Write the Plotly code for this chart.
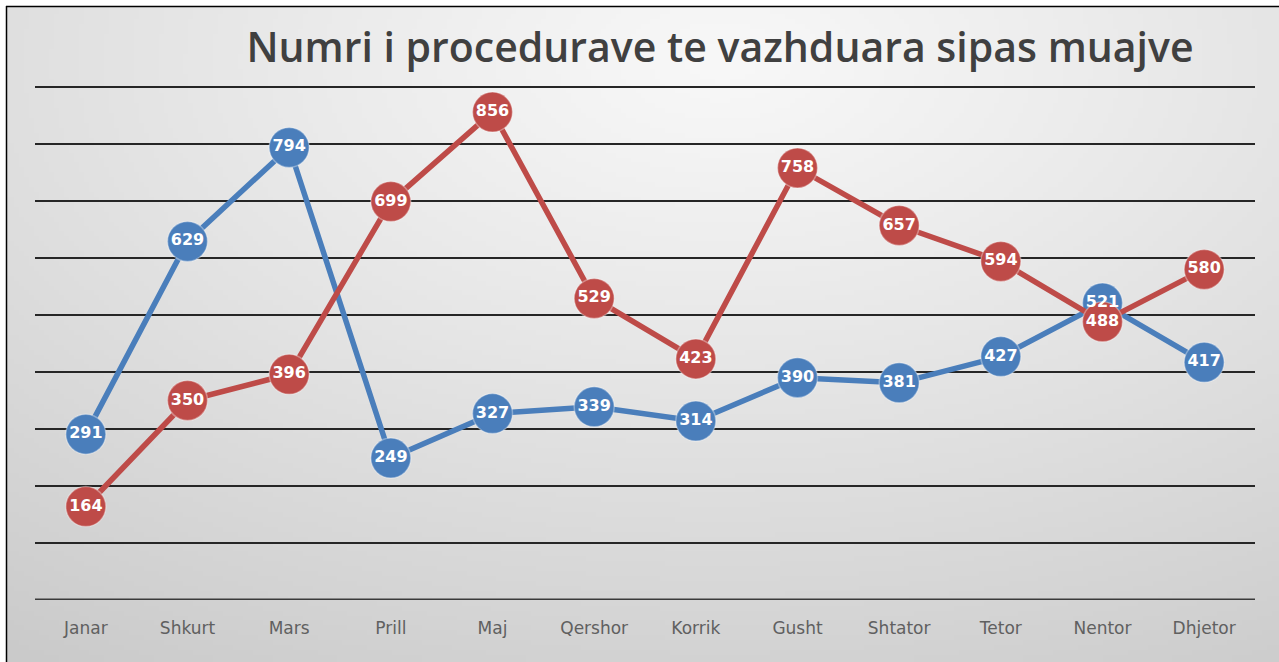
import base64, struct, zlib
import numpy as np
import plotly.graph_objects as go

months = ["Janar", "Shkurt", "Mars", "Prill", "Maj", "Qershor", "Korrik",
          "Gusht", "Shtator", "Tetor", "Nentor", "Dhjetor"]
blue_values = [291, 629, 794, 249, 327, 339, 314, 390, 381, 427, 521, 417]
red_values = [164, 350, 396, 699, 856, 529, 423, 758, 657, 594, 488, 580]
title_text = "Numri i procedurave te vazhduara sipas muajve"

BLUE = "#4a7ebb"
RED = "#be4b48"

W, H = 1279, 662
L, R, T, B = 35, 24, 87, 62
pw, ph = W - L - R, H - T - B


def gradient_png(w, h):
    ys, xs = np.mgrid[0:h, 0:w]
    cx, cy = w * 0.56, h * 0.08
    d = np.sqrt(((xs - cx) / w) ** 2 + ((ys - cy) / h * 0.9) ** 2)
    d = d / d.max()
    v = 248 - 46 * d ** 1.1
    v = np.clip(v, 0, 255).astype(np.uint8)
    raw = b"".join(b"\x00" + v[r].tobytes() for r in range(h))

    def chunk(tag, data):
        c = struct.pack(">I", len(data)) + tag + data
        return c + struct.pack(">I", zlib.crc32(tag + data) & 0xFFFFFFFF)

    png = b"\x89PNG\r\n\x1a\n"
    png += chunk(b"IHDR", struct.pack(">IIBBBBB", w, h, 8, 0, 0, 0, 0))
    png += chunk(b"IDAT", zlib.compress(raw, 9))
    png += chunk(b"IEND", b"")
    return "data:image/png;base64," + base64.b64encode(png).decode()


bg = gradient_png(256, 133)

fig = go.Figure()
for vals, col in [(blue_values, BLUE), (red_values, RED)]:
    fig.add_trace(go.Scatter(
        x=months, y=vals, mode="lines+markers",
        line=dict(color=col, width=5.5),
        marker=dict(size=40, color=col, line=dict(color="rgba(255,255,255,0.35)", width=1.5)),
        hoverinfo="skip", showlegend=False))
for vals in [blue_values, red_values]:
    fig.add_trace(go.Scatter(
        x=months, y=vals, mode="text", text=[str(v) for v in vals],
        textposition="middle center",
        textfont=dict(family="DejaVu Sans", size=16, color="white", weight="bold"),
        hoverinfo="skip", showlegend=False))

px_x = lambda p: (p - L) / pw
px_y = lambda p: 1 - (p - T) / ph

fig.update_layout(
    width=W, height=H,
    margin=dict(l=L, r=R, t=T, b=B),
    paper_bgcolor="white",
    plot_bgcolor="rgba(0,0,0,0)",
    title=dict(text=title_text, x=720 / W, y=1 - 48 / H, xanchor="center", yanchor="middle",
               xref="container", yref="container",
               font=dict(family="Open Sans", size=41, color="#404040", weight=600)),
    xaxis=dict(range=[-0.5, 11.5], showgrid=False, zeroline=False, showline=False,
               ticks="", ticklabelstandoff=16,
               tickfont=dict(family="DejaVu Sans", size=17, color="#606060")),
    yaxis=dict(range=[0, 900], dtick=100, showticklabels=False, zeroline=False,
               showgrid=True, gridcolor="#262626", gridwidth=2, showline=False, ticks=""),
    images=[dict(source=bg, xref="paper", yref="paper",
                 x=px_x(7), y=px_y(7), sizex=(W - 7) / pw, sizey=(H - 7) / ph,
                 sizing="stretch", xanchor="left", yanchor="top", layer="below")],
    shapes=[
        dict(type="line", xref="paper", yref="paper", x0=px_x(6), x1=px_x(W), y0=px_y(6.5), y1=px_y(6.5),
             line=dict(color="black", width=1.5)),
        dict(type="line", xref="paper", yref="paper", x0=px_x(6.5), x1=px_x(6.5), y0=px_y(6), y1=px_y(H),
             line=dict(color="black", width=1.5)),
        dict(type="line", xref="paper", yref="y", x0=0, x1=1, y0=0, y1=0,
             line=dict(color="#3a3a3a", width=3), layer="below"),
        dict(type="line", xref="paper", yref="paper", x0=0, x1=1, y0=1, y1=1,
             line=dict(color="#262626", width=2), layer="below"),
    ],
)

fig.write_html("out.html", config={"displayModeBar": False},
               post_script="document.body.style.margin='0px';")
